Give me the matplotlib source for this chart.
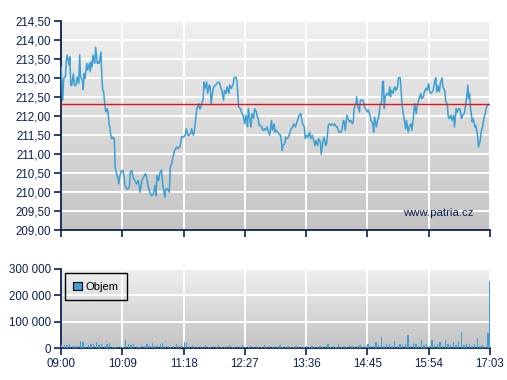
import numpy as np
import matplotlib
matplotlib.use('Agg')
from matplotlib import pyplot as plt
from matplotlib.colors import LinearSegmentedColormap
from matplotlib.patches import Patch

plt.rcParams['font.family'] = ['Liberation Sans', 'DejaVu Sans']

# minutes after 09:00
price_minutes = [
    0, 1, 2, 3, 5, 6, 7, 9, 10, 11, 12, 14, 15, 17, 18, 20, 21, 22, 24, 25,
    26, 27, 29, 30, 32, 33, 34, 35, 36, 38, 39, 41, 42, 43, 45, 46, 47, 48, 49, 50,
    51, 52, 53, 54, 55, 56, 57, 58, 60, 61, 63, 64, 65, 66, 68, 70, 71, 72, 74, 75,
    77, 78, 80, 81,
    83, 85, 87, 89, 91, 93, 95, 96, 98, 100, 102, 104, 106, 107, 108, 110, 111, 113, 115, 117,
    118, 120, 122, 123, 125, 126, 128, 130, 132, 134, 136, 138, 140, 141, 143, 144, 146, 147, 149, 150,
    152, 153, 155, 156, 157, 159, 160, 161,
    162, 164, 165, 167, 168, 169, 171, 172, 174, 176, 178, 179, 181, 183, 184, 186, 187, 189, 190, 192,
    194, 195, 197, 198, 199, 200, 202, 203, 205, 206, 207, 208, 209, 210, 211, 213, 214, 215, 217, 218,
    220, 221, 222, 223, 224, 226, 227, 229, 230, 232, 233, 235, 237, 238, 240,
    241, 242, 244, 245, 247, 248, 249, 250, 252, 253, 255, 256, 258, 259, 261, 262, 264, 265, 267, 268,
    270, 271, 272, 274, 275, 277, 278, 280, 281, 283, 284, 286, 287, 289, 290, 292, 293, 295, 296, 298,
    299, 301, 302, 304, 305, 307, 308, 310, 311, 313, 315, 316, 318, 319,
    320, 322, 323, 325, 326, 328, 329, 330, 332, 333, 334, 336, 337, 339, 340, 342, 343, 345, 346, 348,
    349, 351, 352, 353, 355, 356, 358, 359, 361, 362, 363, 364, 365, 366, 367, 369, 370, 371, 372, 374,
    375, 376, 377, 379, 380, 382, 383, 384, 385, 387, 388, 389, 390, 391, 392, 394, 395, 397, 398,
    400, 401, 402, 403, 405, 406, 408, 409, 411, 412, 414, 415, 416, 418, 419, 421, 422, 423, 424, 426,
    427, 429, 430, 432, 433, 435, 436, 437, 439, 440, 442, 443, 445, 446, 448, 449, 451, 452, 454, 455,
    457, 458, 459, 460, 461, 463, 464, 466, 467, 469, 470, 472, 473, 475, 476, 478, 479, 481,
]
prices = [
    213.29, 212.94, 212.41, 212.98, 213.02, 213.46, 213.60, 213.33, 213.55, 212.80,
    212.80, 213.11, 212.80, 212.80, 213.02, 212.85, 213.60, 213.02, 212.94, 212.69,
    213.11, 212.98, 213.38, 213.20, 213.38, 213.16, 213.42, 213.29, 213.60, 213.38,
    213.80, 213.38, 213.42, 213.38, 213.68, 213.02, 212.67, 212.63, 212.37, 212.15,
    212.10, 212.19, 212.10, 211.79, 211.71, 211.49, 211.40, 211.44, 211.40, 210.65,
    210.43, 210.39, 210.21, 210.39, 210.56, 210.56, 210.39, 210.17, 210.08, 210.08,
    210.12, 210.52, 210.56, 210.39,
    210.30, 210.21, 210.30, 209.99, 210.30, 210.39, 210.48, 210.43, 210.17, 209.99,
    209.90, 209.95, 210.17, 209.90, 210.43, 210.30, 210.48, 210.58, 210.12, 209.86,
    210.08, 210.08, 209.99, 210.65, 210.78, 210.92, 211.09, 211.18, 211.14, 211.20,
    211.46, 211.44, 211.49, 211.66, 211.49, 211.49, 211.53, 211.66, 211.49, 211.57,
    211.97, 212.19, 212.32, 212.19, 212.19, 212.37, 212.41, 212.89,
    212.72, 212.89, 212.59, 212.81, 212.76, 212.32, 212.67, 212.76, 212.81, 212.87,
    212.89, 212.81, 212.67, 212.41, 212.67, 212.59, 212.76, 212.59, 212.81, 212.72,
    212.85, 213.01, 213.01, 212.94, 212.59, 212.23, 212.19, 212.10, 212.01, 211.90,
    211.79, 212.01, 211.93, 211.71, 212.19, 211.84, 211.71, 212.06, 211.93, 212.19,
    212.10, 211.97, 211.93, 211.75, 211.75, 211.71, 211.62, 211.66, 211.62, 211.71,
    211.62, 211.49, 211.88, 211.62, 211.79,
    211.57, 211.62, 211.57, 211.53, 211.49, 211.35, 211.09, 211.22, 211.27, 211.44,
    211.40, 211.44, 211.57, 211.66, 211.71, 211.79, 211.71, 211.79, 211.93, 212.01,
    212.06, 211.93, 211.79, 211.71, 211.40, 211.49, 211.44, 211.57, 211.40, 211.49,
    211.40, 211.22, 211.35, 211.22, 211.40, 211.31, 210.99, 211.35, 211.44, 211.22,
    211.27, 211.75, 211.79, 211.75, 211.79, 211.75, 211.79, 211.71, 211.71, 211.57,
    211.57, 211.62, 211.88, 211.84,
    211.62, 212.01, 211.93, 211.84, 211.88, 211.79, 211.84, 212.19, 212.32, 212.50,
    212.28, 212.10, 212.41, 212.41, 212.41, 212.23, 212.19, 212.10, 212.15, 212.01,
    211.88, 211.79, 211.57, 211.97, 211.71, 211.84, 212.01, 212.23, 212.37, 212.89,
    212.91, 212.19, 212.50, 212.54, 212.59, 212.54, 212.76, 212.50, 212.67, 212.59,
    212.72, 212.76, 212.67, 212.76, 213.00, 213.00, 212.63, 212.28, 212.10, 211.84,
    211.66, 211.88, 211.71, 211.57, 211.71, 211.79, 211.62, 212.01, 212.32,
    212.06, 212.28, 212.32, 212.45, 212.59, 212.45, 212.50, 212.63, 212.72, 212.67,
    212.85, 212.63, 212.59, 212.63, 212.67, 212.94, 213.00, 212.63, 212.80, 212.63,
    212.85, 213.00, 212.76, 212.67, 212.41, 212.28, 211.97, 211.93, 212.01, 211.88,
    212.01, 211.71, 212.19, 212.10, 212.19, 212.19, 211.93, 212.01, 212.06, 212.19,
    212.54, 212.80, 212.45, 212.59, 212.23, 211.84, 211.93, 211.71, 211.75, 211.49,
    211.18, 211.35, 211.57, 211.75, 211.93, 212.10, 212.23, 212.30,
]
prev_close = 212.30

# volume in thousands of shares, one value per 3 minutes from 09:00
volume_k = [
    14, 12, 13, 18, 10, 9, 8, 28, 25, 6, 14, 18, 16, 23, 12, 18, 10, 15, 19, 5,
    5, 5, 5, 6, 31, 16, 12, 15, 9, 6, 12, 8, 16, 11, 21, 7, 12, 15, 20, 10,
    9, 6, 9, 15, 8, 12, 23, 21, 9, 12, 6, 5, 8, 4, 11, 6, 5, 9, 4, 13,
    6, 5, 7, 12, 4, 6, 9, 5, 14, 6, 4, 8, 5, 10, 6, 4, 12, 5, 7, 4,
    9, 6, 11, 5, 4, 8, 6, 5, 10, 6, 6, 5, 7, 4, 8, 5, 6, 9, 5, 7,
    16, 6, 8, 5, 15, 6, 9, 5, 12, 7, 6, 8, 12, 6, 9, 18, 8, 10, 25, 12,
    43, 9, 16, 15, 10, 28, 8, 16, 11, 18, 49, 9, 21, 18, 10, 31, 12, 18, 9, 33,
    11, 15, 25, 10, 33, 16, 12, 25, 14, 28, 62, 12, 18, 15, 10, 16, 37, 9, 12, 6,
    58,
]
volume_step = 3
close_minute = 482
close_volume_k = 253

tick_minutes = [0, 69, 138, 207, 276, 345, 414, 483]
tick_labels = ['09:00', '10:09', '11:18', '12:27', '13:36', '14:45', '15:54', '17:03']

navy = '#0b2150'
blue = '#3d9fd3'
bg = LinearSegmentedColormap.from_list('bg', ['#c4c4c4', '#f0f0f0'])


def style(ax):
    grad = np.linspace(0, 1, 256).reshape(-1, 1)
    ax.imshow(grad, extent=[0, 1, 0, 1], transform=ax.transAxes, cmap=bg,
              aspect='auto', origin='lower', zorder=0)
    ax.set_xlim(0, 483)
    ax.set_xticks(tick_minutes)
    ax.grid(True, color='white', lw=1.4)
    ax.set_axisbelow(True)
    for s in ['top', 'right']:
        ax.spines[s].set_visible(False)
    for s in ['left', 'bottom']:
        ax.spines[s].set_color(navy)
        ax.spines[s].set_linewidth(1.3)
    ax.tick_params(direction='out', length=5, width=1.2, color=navy,
                   labelcolor=navy, labelsize=8.3, pad=2)


fig = plt.figure(figsize=(5.07, 3.80), dpi=100)
ax1 = fig.add_axes([61 / 507, 1 - 230 / 380, 429 / 507, 209.3 / 380])
ax2 = fig.add_axes([61 / 507, 1 - 348.3 / 380, 429 / 507, 79.6 / 380])

# price chart
style(ax1)
ax1.plot(price_minutes, prices, color=blue, lw=1.1, zorder=3)
ax1.axhline(prev_close, color='#e4141b', lw=1.0, zorder=4)
ax1.set_ylim(209, 214.5)
yt = np.arange(209, 214.51, 0.5)
ax1.set_yticks(yt)
ax1.set_yticklabels([f"{v:.2f}".replace('.', ',') for v in yt])
ax1.set_xticklabels([])
ax1.text(0.961, 0.08, 'www.patria.cz', transform=ax1.transAxes, ha='right',
         va='center', color=navy, fontsize=8.2)

# volume chart
style(ax2)
vol_minutes = np.arange(len(volume_k)) * volume_step
ax2.bar(vol_minutes, np.array(volume_k) * 1000, width=1.4, align='edge',
        color=blue, zorder=3)
ax2.bar([close_minute], [close_volume_k * 1000], width=1.0, align='edge',
        color=blue, zorder=3)
ax2.set_ylim(0, 300000)
vt = [0, 100000, 200000, 300000]
ax2.set_yticks(vt)
ax2.set_yticklabels([f"{v:,}".replace(',', ' ') for v in vt])
ax2.set_xticklabels(tick_labels)
ax2.set_xlim(0, 483)

leg = ax2.legend(handles=[Patch(facecolor=blue, edgecolor='black', lw=0.8, label='Objem')],
                 loc='upper left', bbox_to_anchor=(0.0093, 0.942), borderaxespad=0,
                 fancybox=False, framealpha=1, facecolor='none', edgecolor='black',
                 fontsize=8.1, handlelength=0.75, handleheight=0.75, handletextpad=0.35,
                 borderpad=0.75)
leg.get_frame().set_linewidth(1.0)

fig.savefig('out.png', dpi=100)
